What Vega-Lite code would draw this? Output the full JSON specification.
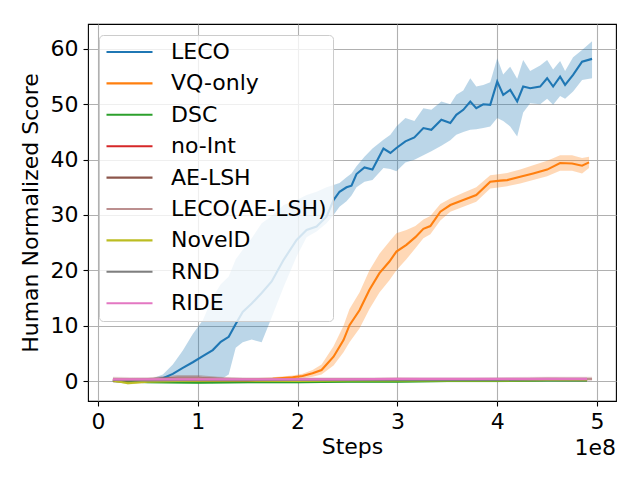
{
  "$schema": "https://vega.github.io/schema/vega-lite/v6.json",
  "width": 528,
  "height": 377,
  "autosize": {"type": "none"},
  "padding": {"left": 88, "top": 24, "right": 24, "bottom": 79},
  "background": "white",
  "config": {
    "font": "DejaVu Sans",
    "view": {"stroke": "black", "strokeWidth": 1.1},
    "axis": {
      "labelFont": "DejaVu Sans", "labelFontSize": 22, "labelColor": "black",
      "titleFont": "DejaVu Sans", "titleFontSize": 22, "titleFontWeight": "normal", "titleColor": "black",
      "tickColor": "black", "tickSize": 5, "tickWidth": 1.1, "domain": false,
      "gridColor": "#b0b0b0", "gridWidth": 1.1, "gridOpacity": 1, "labelPadding": 5
    },
    "legend": {
      "orient": "top-left", "offset": 11, "symbolType": "stroke", "symbolSize": 2116, "symbolStrokeWidth": 2.1,
      "clipHeight": 22, "rowPadding": 9.4, "labelFont": "DejaVu Sans", "labelFontSize": 22, "labelColor": "black",
      "labelOffset": 17, "padding": 6, "fillColor": "rgba(255,255,255,0.8)", "strokeColor": "#cccccc",
      "cornerRadius": 4, "labelLimit": 400
    }
  },
  "title": {"text": "1e8", "orient": "bottom", "anchor": "end", "frame": "group", "font": "DejaVu Sans", "fontSize": 22, "fontWeight": "normal", "color": "black", "offset": -19},
  "data": {"values": [
    {"method":"LECO","step":15000000,"mean":0.0,"lo":-0.2,"hi":0.2},
    {"method":"LECO","step":25000000,"mean":0.0,"lo":-0.3,"hi":0.3},
    {"method":"LECO","step":35000000,"mean":0.1,"lo":-0.2,"hi":0.3},
    {"method":"LECO","step":45000000,"mean":0.1,"lo":-0.2,"hi":0.4},
    {"method":"LECO","step":55000000,"mean":0.2,"lo":-0.1,"hi":0.5},
    {"method":"LECO","step":65000000,"mean":0.5,"lo":0.0,"hi":1.2},
    {"method":"LECO","step":75000000,"mean":1.3,"lo":0.0,"hi":3.0},
    {"method":"LECO","step":85000000,"mean":2.4,"lo":0.0,"hi":5.5},
    {"method":"LECO","step":95000000,"mean":3.4,"lo":-0.1,"hi":8.5},
    {"method":"LECO","step":105000000,"mean":4.5,"lo":-0.2,"hi":11.0},
    {"method":"LECO","step":115000000,"mean":5.6,"lo":-0.4,"hi":15.2},
    {"method":"LECO","step":123000000,"mean":7.1,"lo":0.3,"hi":17.5},
    {"method":"LECO","step":131000000,"mean":8.0,"lo":1.2,"hi":18.9},
    {"method":"LECO","step":138000000,"mean":10.3,"lo":6.0,"hi":22.0},
    {"method":"LECO","step":145000000,"mean":12.5,"lo":7.0,"hi":23.7},
    {"method":"LECO","step":154000000,"mean":14.0,"lo":7.5,"hi":25.8},
    {"method":"LECO","step":164000000,"mean":15.9,"lo":7.0,"hi":28.5},
    {"method":"LECO","step":174000000,"mean":18.0,"lo":11.5,"hi":29.8},
    {"method":"LECO","step":186000000,"mean":21.9,"lo":17.0,"hi":31.8},
    {"method":"LECO","step":199000000,"mean":25.5,"lo":22.5,"hi":32.7},
    {"method":"LECO","step":209000000,"mean":27.3,"lo":26.0,"hi":33.6},
    {"method":"LECO","step":219000000,"mean":27.9,"lo":27.0,"hi":34.2},
    {"method":"LECO","step":229000000,"mean":29.7,"lo":28.5,"hi":35.0},
    {"method":"LECO","step":236000000,"mean":32.7,"lo":30.0,"hi":35.4},
    {"method":"LECO","step":242000000,"mean":34.2,"lo":31.5,"hi":35.8},
    {"method":"LECO","step":249000000,"mean":35.0,"lo":32.5,"hi":36.8},
    {"method":"LECO","step":254000000,"mean":35.3,"lo":33.5,"hi":37.5},
    {"method":"LECO","step":259000000,"mean":37.4,"lo":35.0,"hi":38.8},
    {"method":"LECO","step":267000000,"mean":38.6,"lo":36.0,"hi":40.5},
    {"method":"LECO","step":275000000,"mean":38.2,"lo":36.3,"hi":42.0},
    {"method":"LECO","step":286000000,"mean":42.0,"lo":38.5,"hi":43.6},
    {"method":"LECO","step":293000000,"mean":41.2,"lo":38.3,"hi":44.5},
    {"method":"LECO","step":299000000,"mean":42.1,"lo":37.9,"hi":46.0},
    {"method":"LECO","step":308000000,"mean":43.3,"lo":39.5,"hi":47.5},
    {"method":"LECO","step":317000000,"mean":44.0,"lo":40.0,"hi":47.0},
    {"method":"LECO","step":326000000,"mean":45.7,"lo":40.8,"hi":49.3},
    {"method":"LECO","step":334000000,"mean":45.4,"lo":41.5,"hi":49.0},
    {"method":"LECO","step":344000000,"mean":47.2,"lo":42.5,"hi":50.5},
    {"method":"LECO","step":353000000,"mean":46.6,"lo":43.5,"hi":50.0},
    {"method":"LECO","step":359000000,"mean":48.1,"lo":44.5,"hi":51.7},
    {"method":"LECO","step":366000000,"mean":49.0,"lo":45.0,"hi":52.5},
    {"method":"LECO","step":373000000,"mean":50.5,"lo":45.4,"hi":54.7},
    {"method":"LECO","step":379000000,"mean":49.3,"lo":45.5,"hi":53.2},
    {"method":"LECO","step":386000000,"mean":50.0,"lo":45.7,"hi":53.5},
    {"method":"LECO","step":393000000,"mean":49.9,"lo":46.0,"hi":54.0},
    {"method":"LECO","step":400000000,"mean":54.1,"lo":47.5,"hi":58.3},
    {"method":"LECO","step":406000000,"mean":51.7,"lo":47.0,"hi":55.4},
    {"method":"LECO","step":413000000,"mean":52.6,"lo":46.0,"hi":56.8},
    {"method":"LECO","step":420000000,"mean":50.5,"lo":44.2,"hi":54.6},
    {"method":"LECO","step":426000000,"mean":53.2,"lo":48.5,"hi":58.0},
    {"method":"LECO","step":433000000,"mean":52.9,"lo":50.2,"hi":56.0},
    {"method":"LECO","step":443000000,"mean":53.2,"lo":50.0,"hi":57.0},
    {"method":"LECO","step":450000000,"mean":54.7,"lo":51.0,"hi":58.0},
    {"method":"LECO","step":456000000,"mean":53.2,"lo":49.9,"hi":56.3},
    {"method":"LECO","step":463000000,"mean":55.0,"lo":51.5,"hi":57.8},
    {"method":"LECO","step":468000000,"mean":53.5,"lo":51.0,"hi":56.0},
    {"method":"LECO","step":476000000,"mean":55.3,"lo":52.3,"hi":58.5},
    {"method":"LECO","step":485000000,"mean":57.7,"lo":54.4,"hi":59.8},
    {"method":"LECO","step":495000000,"mean":58.2,"lo":54.7,"hi":61.4},

    {"method":"VQ-only","step":15000000,"mean":0.0,"lo":-0.2,"hi":0.2},
    {"method":"VQ-only","step":35000000,"mean":-0.1,"lo":-0.4,"hi":0.1},
    {"method":"VQ-only","step":55000000,"mean":0.0,"lo":-0.2,"hi":0.2},
    {"method":"VQ-only","step":75000000,"mean":0.1,"lo":-0.1,"hi":0.3},
    {"method":"VQ-only","step":95000000,"mean":0.1,"lo":-0.1,"hi":0.3},
    {"method":"VQ-only","step":115000000,"mean":0.1,"lo":-0.1,"hi":0.3},
    {"method":"VQ-only","step":135000000,"mean":0.2,"lo":0.0,"hi":0.4},
    {"method":"VQ-only","step":155000000,"mean":0.3,"lo":0.1,"hi":0.5},
    {"method":"VQ-only","step":175000000,"mean":0.4,"lo":0.2,"hi":0.7},
    {"method":"VQ-only","step":195000000,"mean":0.7,"lo":0.4,"hi":1.0},
    {"method":"VQ-only","step":205000000,"mean":0.9,"lo":0.5,"hi":1.3},
    {"method":"VQ-only","step":215000000,"mean":1.4,"lo":0.8,"hi":2.0},
    {"method":"VQ-only","step":224000000,"mean":2.0,"lo":1.2,"hi":3.0},
    {"method":"VQ-only","step":236000000,"mean":4.4,"lo":2.8,"hi":6.3},
    {"method":"VQ-only","step":246000000,"mean":7.4,"lo":5.2,"hi":10.0},
    {"method":"VQ-only","step":252000000,"mean":10.1,"lo":7.0,"hi":13.0},
    {"method":"VQ-only","step":262000000,"mean":12.8,"lo":9.5,"hi":16.0},
    {"method":"VQ-only","step":272000000,"mean":16.5,"lo":13.0,"hi":20.0},
    {"method":"VQ-only","step":282000000,"mean":19.5,"lo":16.0,"hi":23.0},
    {"method":"VQ-only","step":292000000,"mean":21.6,"lo":18.2,"hi":25.2},
    {"method":"VQ-only","step":299000000,"mean":23.4,"lo":20.0,"hi":26.7},
    {"method":"VQ-only","step":309000000,"mean":24.6,"lo":22.0,"hi":27.3},
    {"method":"VQ-only","step":318000000,"mean":26.0,"lo":24.0,"hi":28.0},
    {"method":"VQ-only","step":326000000,"mean":27.5,"lo":25.8,"hi":29.2},
    {"method":"VQ-only","step":333000000,"mean":28.0,"lo":26.5,"hi":29.8},
    {"method":"VQ-only","step":343000000,"mean":30.6,"lo":29.0,"hi":32.0},
    {"method":"VQ-only","step":353000000,"mean":31.8,"lo":30.6,"hi":33.0},
    {"method":"VQ-only","step":366000000,"mean":32.7,"lo":31.5,"hi":34.0},
    {"method":"VQ-only","step":379000000,"mean":33.6,"lo":32.4,"hi":35.0},
    {"method":"VQ-only","step":393000000,"mean":36.0,"lo":34.8,"hi":37.2},
    {"method":"VQ-only","step":403000000,"mean":36.2,"lo":35.0,"hi":37.4},
    {"method":"VQ-only","step":410000000,"mean":36.3,"lo":35.2,"hi":37.6},
    {"method":"VQ-only","step":423000000,"mean":36.9,"lo":35.7,"hi":38.2},
    {"method":"VQ-only","step":436000000,"mean":37.5,"lo":36.3,"hi":39.0},
    {"method":"VQ-only","step":450000000,"mean":38.2,"lo":37.0,"hi":39.8},
    {"method":"VQ-only","step":463000000,"mean":39.4,"lo":38.0,"hi":40.8},
    {"method":"VQ-only","step":475000000,"mean":39.3,"lo":38.0,"hi":40.8},
    {"method":"VQ-only","step":485000000,"mean":38.9,"lo":37.5,"hi":40.3},
    {"method":"VQ-only","step":492000000,"mean":39.5,"lo":38.5,"hi":40.5},

    {"method":"DSC","step":15000000,"mean":0.0,"lo":-0.2,"hi":0.2},
    {"method":"DSC","step":50000000,"mean":-0.2,"lo":-0.4,"hi":0.0},
    {"method":"DSC","step":100000000,"mean":-0.3,"lo":-0.5,"hi":-0.1},
    {"method":"DSC","step":150000000,"mean":-0.2,"lo":-0.4,"hi":0.0},
    {"method":"DSC","step":200000000,"mean":-0.2,"lo":-0.4,"hi":0.0},
    {"method":"DSC","step":250000000,"mean":-0.1,"lo":-0.3,"hi":0.1},
    {"method":"DSC","step":300000000,"mean":-0.1,"lo":-0.3,"hi":0.1},
    {"method":"DSC","step":350000000,"mean":0.0,"lo":-0.2,"hi":0.2},
    {"method":"DSC","step":400000000,"mean":0.0,"lo":-0.2,"hi":0.2},
    {"method":"DSC","step":450000000,"mean":0.1,"lo":-0.1,"hi":0.3},
    {"method":"DSC","step":490000000,"mean":0.1,"lo":-0.1,"hi":0.3},

    {"method":"no-Int","step":15000000,"mean":0.1,"lo":-0.2,"hi":0.4},
    {"method":"no-Int","step":50000000,"mean":0.2,"lo":-0.1,"hi":0.5},
    {"method":"no-Int","step":100000000,"mean":0.2,"lo":-0.1,"hi":0.5},
    {"method":"no-Int","step":150000000,"mean":0.1,"lo":-0.2,"hi":0.4},
    {"method":"no-Int","step":200000000,"mean":0.2,"lo":-0.1,"hi":0.5},
    {"method":"no-Int","step":250000000,"mean":0.2,"lo":-0.1,"hi":0.5},
    {"method":"no-Int","step":300000000,"mean":0.3,"lo":0.0,"hi":0.6},
    {"method":"no-Int","step":350000000,"mean":0.2,"lo":-0.1,"hi":0.5},
    {"method":"no-Int","step":400000000,"mean":0.2,"lo":-0.1,"hi":0.5},
    {"method":"no-Int","step":450000000,"mean":0.3,"lo":0.0,"hi":0.6},
    {"method":"no-Int","step":490000000,"mean":0.2,"lo":-0.1,"hi":0.5},

    {"method":"AE-LSH","step":15000000,"mean":0.2,"lo":-0.1,"hi":0.5},
    {"method":"AE-LSH","step":50000000,"mean":0.3,"lo":0.0,"hi":0.6},
    {"method":"AE-LSH","step":80000000,"mean":0.6,"lo":0.1,"hi":1.1},
    {"method":"AE-LSH","step":100000000,"mean":0.6,"lo":0.1,"hi":1.1},
    {"method":"AE-LSH","step":120000000,"mean":0.4,"lo":0.0,"hi":0.8},
    {"method":"AE-LSH","step":150000000,"mean":0.2,"lo":-0.1,"hi":0.5},
    {"method":"AE-LSH","step":200000000,"mean":0.2,"lo":-0.1,"hi":0.5},
    {"method":"AE-LSH","step":250000000,"mean":0.2,"lo":-0.1,"hi":0.5},
    {"method":"AE-LSH","step":300000000,"mean":0.2,"lo":-0.1,"hi":0.5},
    {"method":"AE-LSH","step":350000000,"mean":0.2,"lo":-0.1,"hi":0.5},
    {"method":"AE-LSH","step":400000000,"mean":0.3,"lo":0.0,"hi":0.6},
    {"method":"AE-LSH","step":450000000,"mean":0.3,"lo":0.0,"hi":0.6},
    {"method":"AE-LSH","step":490000000,"mean":0.3,"lo":0.0,"hi":0.6},

    {"method":"LECO(AE-LSH)","step":15000000,"mean":0.4,"lo":0.0,"hi":0.8},
    {"method":"LECO(AE-LSH)","step":50000000,"mean":0.3,"lo":-0.1,"hi":0.7},
    {"method":"LECO(AE-LSH)","step":80000000,"mean":0.5,"lo":0.0,"hi":1.0},
    {"method":"LECO(AE-LSH)","step":100000000,"mean":0.5,"lo":0.0,"hi":1.0},
    {"method":"LECO(AE-LSH)","step":120000000,"mean":0.4,"lo":0.0,"hi":0.8},
    {"method":"LECO(AE-LSH)","step":150000000,"mean":0.3,"lo":-0.1,"hi":0.7},
    {"method":"LECO(AE-LSH)","step":200000000,"mean":0.3,"lo":-0.1,"hi":0.7},
    {"method":"LECO(AE-LSH)","step":250000000,"mean":0.3,"lo":-0.1,"hi":0.7},
    {"method":"LECO(AE-LSH)","step":300000000,"mean":0.3,"lo":-0.1,"hi":0.7},
    {"method":"LECO(AE-LSH)","step":350000000,"mean":0.3,"lo":-0.1,"hi":0.7},
    {"method":"LECO(AE-LSH)","step":400000000,"mean":0.3,"lo":-0.1,"hi":0.7},
    {"method":"LECO(AE-LSH)","step":450000000,"mean":0.4,"lo":0.0,"hi":0.8},
    {"method":"LECO(AE-LSH)","step":495000000,"mean":0.4,"lo":0.0,"hi":0.8},

    {"method":"NovelD","step":15000000,"mean":0.1,"lo":-0.1,"hi":0.3},
    {"method":"NovelD","step":30000000,"mean":-0.4,"lo":-0.6,"hi":-0.2},
    {"method":"NovelD","step":50000000,"mean":-0.1,"lo":-0.3,"hi":0.1},
    {"method":"NovelD","step":100000000,"mean":0.1,"lo":-0.1,"hi":0.3},
    {"method":"NovelD","step":150000000,"mean":0.1,"lo":-0.1,"hi":0.3},
    {"method":"NovelD","step":200000000,"mean":0.0,"lo":-0.2,"hi":0.2},
    {"method":"NovelD","step":250000000,"mean":0.1,"lo":-0.1,"hi":0.3},
    {"method":"NovelD","step":300000000,"mean":0.1,"lo":-0.1,"hi":0.3},
    {"method":"NovelD","step":350000000,"mean":0.1,"lo":-0.1,"hi":0.3},
    {"method":"NovelD","step":400000000,"mean":0.1,"lo":-0.1,"hi":0.3},
    {"method":"NovelD","step":450000000,"mean":0.2,"lo":0.0,"hi":0.4},
    {"method":"NovelD","step":490000000,"mean":0.2,"lo":0.0,"hi":0.4},

    {"method":"RND","step":15000000,"mean":0.2,"lo":0.0,"hi":0.4},
    {"method":"RND","step":50000000,"mean":0.1,"lo":-0.1,"hi":0.3},
    {"method":"RND","step":100000000,"mean":0.2,"lo":0.0,"hi":0.4},
    {"method":"RND","step":150000000,"mean":0.2,"lo":0.0,"hi":0.4},
    {"method":"RND","step":200000000,"mean":0.2,"lo":0.0,"hi":0.4},
    {"method":"RND","step":250000000,"mean":0.2,"lo":0.0,"hi":0.4},
    {"method":"RND","step":300000000,"mean":0.2,"lo":0.0,"hi":0.4},
    {"method":"RND","step":350000000,"mean":0.2,"lo":0.0,"hi":0.4},
    {"method":"RND","step":400000000,"mean":0.2,"lo":0.0,"hi":0.4},
    {"method":"RND","step":450000000,"mean":0.3,"lo":0.1,"hi":0.5},
    {"method":"RND","step":490000000,"mean":0.3,"lo":0.1,"hi":0.5},

    {"method":"RIDE","step":15000000,"mean":0.3,"lo":0.2,"hi":0.4},
    {"method":"RIDE","step":50000000,"mean":0.3,"lo":0.2,"hi":0.4},
    {"method":"RIDE","step":100000000,"mean":0.3,"lo":0.2,"hi":0.4},
    {"method":"RIDE","step":150000000,"mean":0.3,"lo":0.2,"hi":0.4},
    {"method":"RIDE","step":200000000,"mean":0.3,"lo":0.2,"hi":0.4},
    {"method":"RIDE","step":250000000,"mean":0.3,"lo":0.2,"hi":0.4},
    {"method":"RIDE","step":300000000,"mean":0.4,"lo":0.3,"hi":0.5},
    {"method":"RIDE","step":350000000,"mean":0.4,"lo":0.3,"hi":0.5},
    {"method":"RIDE","step":400000000,"mean":0.4,"lo":0.3,"hi":0.5},
    {"method":"RIDE","step":450000000,"mean":0.4,"lo":0.3,"hi":0.5},
    {"method":"RIDE","step":490000000,"mean":0.4,"lo":0.3,"hi":0.5}
  ]},
  "layer": [
    {
      "mark": {"type": "area", "fillOpacity": 0.3},
      "encoding": {
        "x": {"field": "step", "type": "quantitative",
              "scale": {"domain": [-10000000, 519000000], "nice": false, "zero": false},
              "axis": {"title": "Steps", "values": [0, 100000000, 200000000, 300000000, 400000000, 500000000],
                       "labelExpr": "format(datum.value/100000000, 'd')", "titlePadding": 4}},
        "y": {"field": "lo", "type": "quantitative",
              "scale": {"domain": [-3.6, 64.5], "nice": false, "zero": false},
              "axis": {"title": "Human Normalized Score", "values": [0, 10, 20, 30, 40, 50, 60], "titlePadding": 8}},
        "y2": {"field": "hi"},
        "fill": {"field": "method", "type": "nominal",
                 "scale": {"domain": ["LECO","VQ-only","DSC","no-Int","AE-LSH","LECO(AE-LSH)","NovelD","RND","RIDE"],
                           "range": ["#1f77b4","#ff7f0e","#2ca02c","#d62728","#8c564b","#bc8f8f","#bcbd22","#7f7f7f","#e377c2"]},
                 "legend": {"title": null}}
      }
    },
    {
      "mark": {"type": "line", "strokeWidth": 2.1},
      "encoding": {
        "x": {"field": "step", "type": "quantitative"},
        "y": {"field": "mean", "type": "quantitative"},
        "stroke": {"field": "method", "type": "nominal",
                  "scale": {"domain": ["LECO","VQ-only","DSC","no-Int","AE-LSH","LECO(AE-LSH)","NovelD","RND","RIDE"],
                            "range": ["#1f77b4","#ff7f0e","#2ca02c","#d62728","#8c564b","#bc8f8f","#bcbd22","#7f7f7f","#e377c2"]},
                  "legend": {"title": null}}
      }
    }
  ]
}
